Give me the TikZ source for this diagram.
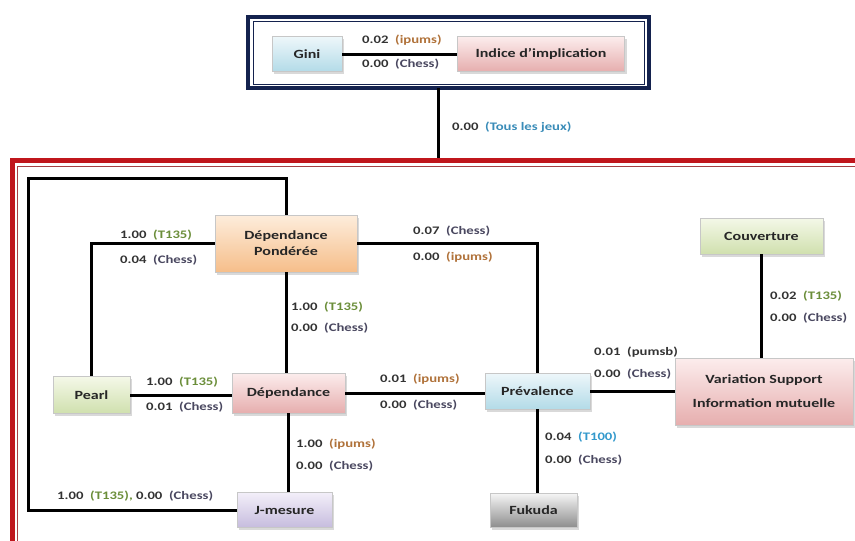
\documentclass[tikz,border=0pt]{standalone}
\usepackage{fontspec}
\setmainfont{Carlito}[FakeStretch=1.28]
\usetikzlibrary{shadows}
\definecolor{numc}{HTML}{333333}
\definecolor{ipc}{HTML}{B0723A}
\definecolor{chc}{HTML}{4A4860}
\definecolor{tic}{HTML}{6B8E3A}
\definecolor{thc}{HTML}{3399CC}
\definecolor{tjc}{HTML}{3A8CB8}
\definecolor{navy}{HTML}{14224E}
\definecolor{redf}{HTML}{C0161C}
\definecolor{bluet}{HTML}{EEF7FA}\definecolor{blueb}{HTML}{B3DBE8}
\definecolor{pinkt}{HTML}{FCEDED}\definecolor{pinkb}{HTML}{E6AEAE}
\definecolor{peacht}{HTML}{FDEDDC}\definecolor{peachb}{HTML}{F6BE8A}
\definecolor{greent}{HTML}{F4F8E8}\definecolor{greenb}{HTML}{D0E0AE}
\definecolor{grayt}{HTML}{F6F6F6}\definecolor{grayb}{HTML}{8E8E8E}
\definecolor{lavt}{HTML}{F3EFF9}\definecolor{lavb}{HTML}{C6BCDE}
\newcommand{\lab}[3]{\textcolor{numc}{#1}\ \ \textcolor{#2}{(#3)}}
\begin{document}
\begin{tikzpicture}[x=1pt,y=-1pt,
  box/.style={rectangle, draw=black!22, line width=0.5pt, font=\bfseries\fontsize{12.5}{14}\selectfont, text=black!85,
     drop shadow={shadow xshift=2pt, shadow yshift=-2.5pt, opacity=0.3}, inner sep=0pt, align=center,
     top color=#1t, bottom color=#1b},
  bluebox/.style={box=blue},
  pinkbox/.style={box=pink},
  peachbox/.style={box=peach},
  greenbox/.style={box=green},
  graybox/.style={box=gray},
  lavbox/.style={box=lav},
  lbl/.style={anchor=west, inner sep=0pt, font=\bfseries\fontsize{11.5}{13}\selectfont},
  link/.style={line width=3pt, black}]
\useasboundingbox (0,0) rectangle (855,541);
\clip (0,0) rectangle (855,541);
% frames
\draw[navy, line width=4pt] (248,17) rectangle (649,88);
\draw[navy, line width=0.8pt] (253.5,21.5) rectangle (644.5,84);
\draw[redf, line width=5pt] (12.5,160.5) rectangle (880,580);
\draw[redf!60!gray, line width=0.8pt] (17.5,166) rectangle (880,580);
% nodes
\node[bluebox, minimum width=70pt, minimum height=35pt] (gini) at (307,54) {Gini};
\node[pinkbox, minimum width=167pt, minimum height=35pt] (indice) at (541,54) {Indice d’implication};
\node[peachbox, minimum width=142pt, minimum height=57pt] (dp) at (286,243.5) {Dépendance\\[2pt]Pondérée};
\node[greenbox, minimum width=77pt, minimum height=37pt] (pearl) at (91.5,395) {Pearl};
\node[pinkbox, minimum width=113pt, minimum height=40pt] (dep) at (288.5,393) {Dépendance};
\node[bluebox, minimum width=105pt, minimum height=36pt] (prev) at (537.5,391) {Prévalence};
\node[pinkbox, minimum width=178pt, minimum height=67pt] (vs) at (764,391.5) {Variation Support\\[10pt]Information mutuelle};
\node[greenbox, minimum width=123pt, minimum height=36pt] (couv) at (761.5,236) {Couverture};
\node[graybox, minimum width=87pt, minimum height=34pt] (fuk) at (533.5,510) {Fukuda};
\node[lavbox, minimum width=95pt, minimum height=35pt] (jm) at (284.5,510) {J-mesure};
\coordinate (ftop) at (438,88);
\coordinate (fbot) at (438,158);
\coordinate (loop) at (28,178);
% connectors
\draw[link] (gini.east) -- (indice.west);
\draw[link] (ftop) -- (fbot);
\draw[link] (dp.north) |- (loop) |- (jm.west);
\draw[link] (dp.west) -| (pearl.north);
\draw[link] (dp.east) -| (prev.north);
\draw[link] (dp.south) -- (dp.south |- dep.north);
\draw[link] (pearl.east) -- (pearl.east -| dep.west);
\draw[link] (dep.east) -- (dep.east -| prev.west);
\draw[link] (prev.east) -- (prev.east -| vs.west);
\draw[link] (couv.south) -- (couv.south |- vs.north);
\draw[link] (prev.south) -- (prev.south |- fuk.north);
\draw[link] (dep.south) -- (dep.south |- jm.north);
% labels
\node[lbl] (l1) at (362,40) {\lab{0.02}{ipc}{ipums}};
\node[lbl] (l2) at (362,64) {\lab{0.00}{chc}{Chess}};
\node[lbl] (l3) at (452,127) {\lab{0.00}{tjc}{Tous les jeux}};
\node[lbl] (l4) at (120,235) {\lab{1.00}{tic}{T135}};
\node[lbl] (l5) at (120,260) {\lab{0.04}{chc}{Chess}};
\node[lbl] (l6) at (413,231) {\lab{0.07}{chc}{Chess}};
\node[lbl] (l7) at (413,257) {\lab{0.00}{ipc}{ipums}};
\node[lbl] (l8) at (291,307) {\lab{1.00}{tic}{T135}};
\node[lbl] (l9) at (291,328) {\lab{0.00}{chc}{Chess}};
\node[lbl] (l10) at (146,382) {\lab{1.00}{tic}{T135}};
\node[lbl] (l11) at (146,407) {\lab{0.01}{chc}{Chess}};
\node[lbl] (l12) at (380,379) {\lab{0.01}{ipc}{ipums}};
\node[lbl] (l13) at (380,405) {\lab{0.00}{chc}{Chess}};
\node[lbl] (l14) at (594,352) {\lab{0.01}{numc}{pumsb}};
\node[lbl] (l15) at (594,374) {\lab{0.00}{chc}{Chess}};
\node[lbl] (l16) at (770,296) {\lab{0.02}{tic}{T135}};
\node[lbl] (l17) at (770,318) {\lab{0.00}{chc}{Chess}};
\node[lbl] (l18) at (545,437) {\lab{0.04}{thc}{T100}};
\node[lbl] (l19) at (545,460) {\lab{0.00}{chc}{Chess}};
\node[lbl] (l20) at (296,444) {\lab{1.00}{ipc}{ipums}};
\node[lbl] (l21) at (296,466) {\lab{0.00}{chc}{Chess}};
\node[lbl] (l22) at (57,496) {\lab{1.00}{tic}{T135}\textcolor{tic}{,}\ \lab{0.00}{chc}{Chess}};
\end{tikzpicture}
\end{document}
